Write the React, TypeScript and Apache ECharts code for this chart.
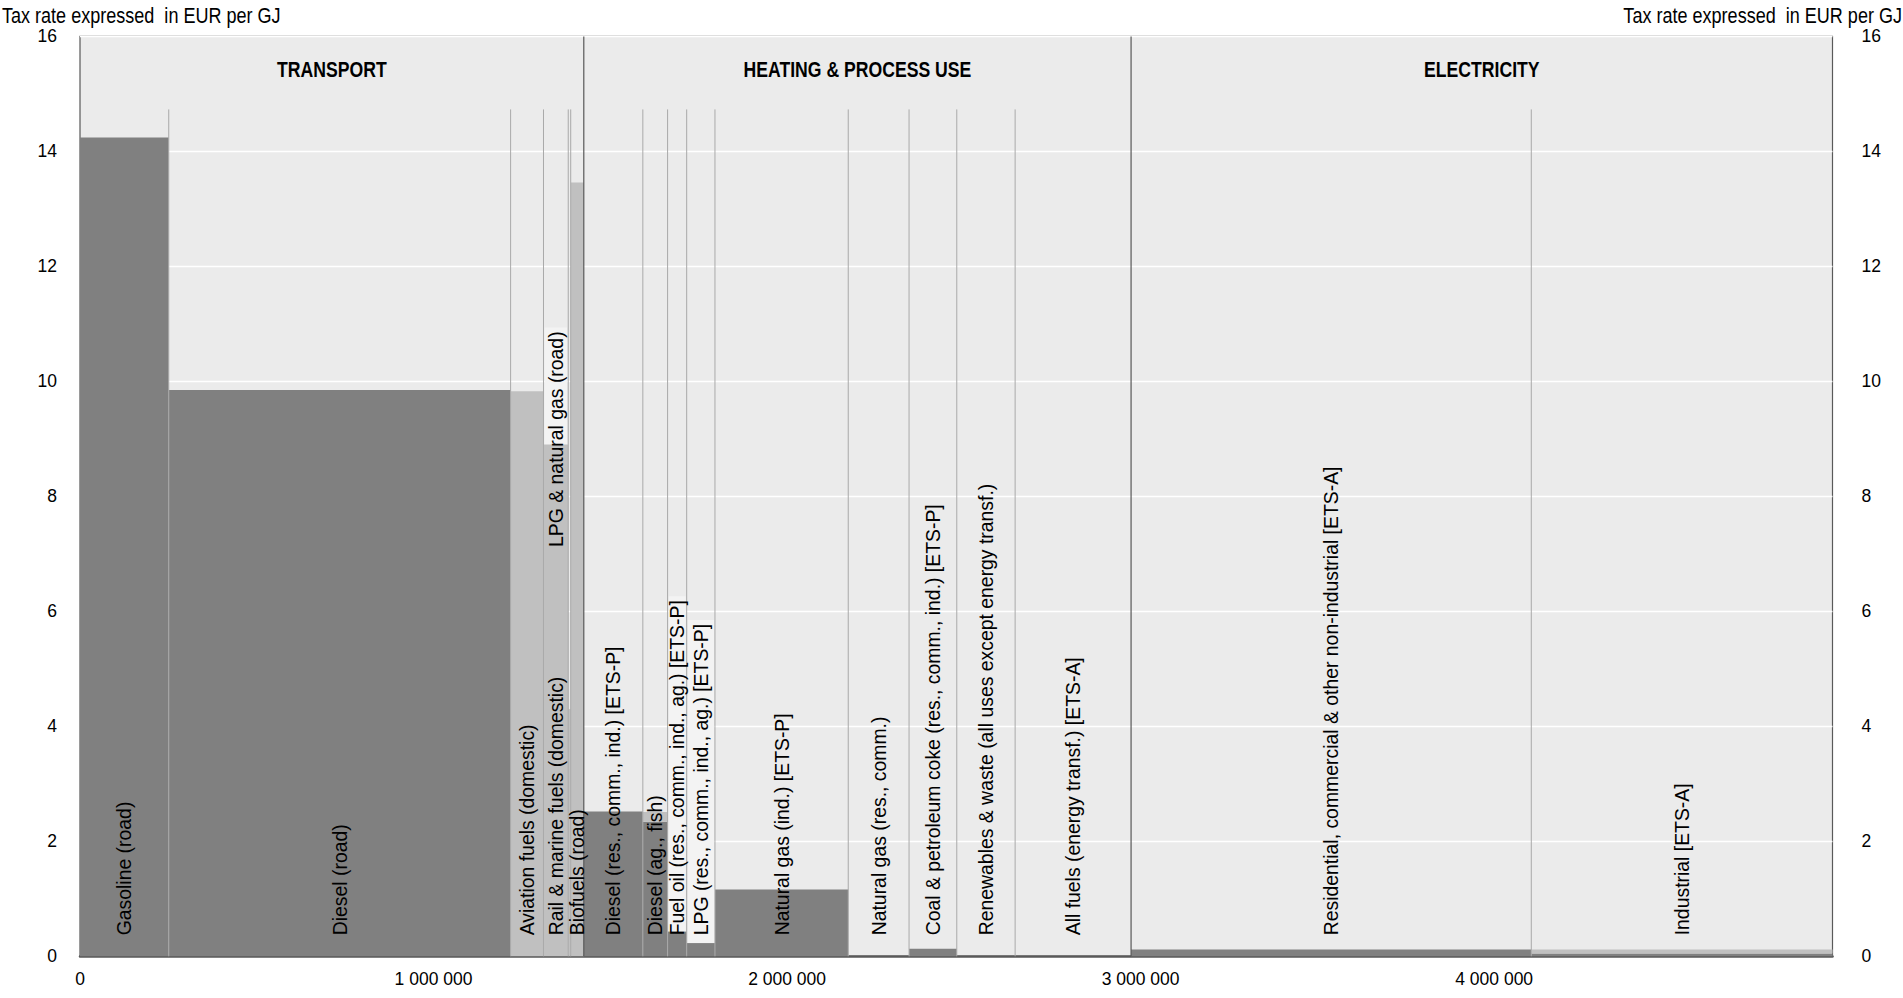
import React, { useEffect, useRef } from "react";
import * as echarts from "echarts";

// ---------- DATA ----------
const categories: string[] = [
  "Gasoline (road)",
  "Diesel (road)",
  "Aviation fuels (domestic)",
  "Rail & marine fuels (domestic)",
  "LPG & natural gas (road)",
  "Biofuels (road)",
  "Diesel (res., comm., ind.) [ETS-P]",
  "Diesel (ag., fish)",
  "Fuel oil (res., comm., ind., ag.) [ETS-P]",
  "LPG (res., comm., ind., ag.) [ETS-P]",
  "Natural gas (ind.) [ETS-P]",
  "Natural gas (res., comm.)",
  "Coal & petroleum coke (res., comm., ind.) [ETS-P]",
  "Renewables & waste (all uses except energy transf.)",
  "All fuels (energy transf.) [ETS-A]",
  "Residential, commercial & other non-industrial [ETS-A]",
  "Industrial [ETS-A]",
];
const sectorNames: string[] = ["TRANSPORT", "HEATING & PROCESS USE", "ELECTRICITY"];
const categorySector: number[] = [0, 0, 0, 0, 0, 0, 1, 1, 1, 1, 1, 1, 1, 1, 1, 2, 2];
// energy use in TJ (bar widths)
const energyUseTJ: number[] = [
  251000, 967000, 93000, 70000, 7000, 37000, 167000, 70000, 54000, 80000,
  377000, 172000, 135000, 165000, 328000, 1132000, 852000,
];
// tax rate, EUR per GJ (dark component)
const taxRateMain: number[] = [
  14.24, 9.85, 0, 0, 0, 0, 2.52, 2.34, 0.43, 0.23, 1.16, 0, 0.13, 0, 0, 0.12, 0.05,
];
// tax rate, EUR per GJ (light component, stacked on top)
const taxRateOther: number[] = [
  0, 0, 9.83, 8.9, 4.3, 13.46, 0, 0.17, 0, 0, 0, 0, 0, 0, 0, 0, 0.07,
];
const xTickValues: number[] = [0, 1000000, 2000000, 3000000, 4000000];
const yAxisTitle = "Tax rate expressed  in EUR per GJ";

// ---------- LABEL PLACEMENT / STYLE CONFIG ----------
const boxedLabels: string[] = [
  "LPG & natural gas (road)",
  "Fuel oil (res., comm., ind., ag.) [ETS-P]",
  "LPG (res., comm., ind., ag.) [ETS-P]",
];
const labelHost: Record<string, string> = {
  "LPG & natural gas (road)": "Rail & marine fuels (domestic)",
};
const labelStartValue: Record<string, number> = {
  "LPG & natural gas (road)": 7.12,
};
const SEPARATOR_TOP = 14.73;
const SECTOR_LABEL_Y = 15.43;
const LABEL_OFFSET_PX = 21;

const DARK = "#808080";
const LIGHT = "#c0c0c0";
const BOX = "#f3f3f3";
const PLOT_BG = "#ebebeb";
const FRAME = "#595959";
const SEP = "#a9a9a9";

const REGULAR = '"Liberation Sans", Arial, sans-serif';
const LABEL_FONT_SIZE = 19.4;
const NARROW_SCALE = 0.82;
const TICK_FONT_SIZE = 17.5;

// ---------- DERIVED ----------
const starts: number[] = [];
const ends: number[] = [];
{
  let acc = 0;
  for (const w of energyUseTJ) {
    starts.push(acc);
    acc += w;
    ends.push(acc);
  }
}
const TOTAL = ends[ends.length - 1];

function measureText(text: string): number {
  const ctx = document.createElement("canvas").getContext("2d");
  if (!ctx) return text.length * LABEL_FONT_SIZE * 0.5;
  ctx.font = `${LABEL_FONT_SIZE}px ${REGULAR}`;
  return ctx.measureText(text).width;
}

function fmt(v: number): string {
  if (v === 0) return "0";
  return String(Math.round(v)).replace(/\B(?=(\d{3})+(?!\d))/g, " ");
}

export default function App() {
  const ref = useRef<HTMLDivElement>(null);

  useEffect(() => {
    if (!ref.current) return;
    const chart = echarts.init(ref.current, undefined, { renderer: "svg" });

    const barData = categories.map((_, i) => [starts[i], ends[i], taxRateMain[i], taxRateOther[i]]);

    const sepData: number[][] = [];
    for (let i = 1; i < categories.length; i++) {
      sepData.push([starts[i], categorySector[i] !== categorySector[i - 1] ? 1 : 0]);
    }

    const labelInfo = categories.map((c) => {
      const host = labelHost[c] ?? c;
      const hi = categories.indexOf(host);
      return { text: c, hi, boxed: boxedLabels.includes(c), start: labelStartValue[c] };
    });
    const labelData = labelInfo.map((l, i) => [(starts[l.hi] + ends[l.hi]) / 2, i]);
    const boxData = labelInfo
      .map((l, i) => ({ l, i }))
      .filter((o) => o.l.boxed)
      .map((o) => [(starts[o.l.hi] + ends[o.l.hi]) / 2, o.i]);

    const sectorData = sectorNames.map((_, s) => {
      const idx = categories.map((_, i) => i).filter((i) => categorySector[i] === s);
      const a = starts[idx[0]];
      const b = ends[idx[idx.length - 1]];
      return [(a + b) / 2, s];
    });

    const labelY = (api: any, i: number) => {
      const l = labelInfo[i];
      if (l.start != null) return api.coord([0, l.start])[1];
      return api.coord([0, 0])[1] - LABEL_OFFSET_PX;
    };

    const option: any = {
      animation: false,
      grid: {
        left: 80,
        right: 70.5,
        top: 36.4,
        bottom: 41.7,
        show: true,
        backgroundColor: PLOT_BG,
        borderColor: FRAME,
        borderWidth: 1.2,
        containLabel: false,
        outerBoundsMode: "none",
      },
      xAxis: {
        type: "value",
        min: 0,
        max: TOTAL,
        interval: 1000000,
        axisLine: { show: true, lineStyle: { color: FRAME, width: 2.5 } },
        axisTick: { show: false },
        splitLine: { show: false },
        axisLabel: {
          showMaxLabel: false,
          color: "#000",
          fontFamily: REGULAR,
          fontSize: TICK_FONT_SIZE,
          margin: 14,
          formatter: (v: number) => (xTickValues.includes(v) ? fmt(v) : ""),
        },
      },
      yAxis: [
        {
          type: "value",
          min: 0,
          max: 16,
          interval: 2,
          axisLine: { show: false },
          axisTick: { show: false },
          splitLine: { show: true, lineStyle: { color: "#ffffff", width: 1.3 } },
          axisLabel: { color: "#000", fontFamily: REGULAR, fontSize: TICK_FONT_SIZE, margin: 23 },
        },
        {
          type: "value",
          position: "right",
          min: 0,
          max: 16,
          interval: 2,
          axisLine: { show: false },
          axisTick: { show: false },
          splitLine: { show: false },
          axisLabel: { color: "#000", fontFamily: REGULAR, fontSize: TICK_FONT_SIZE, margin: 29 },
        },
      ],
      graphic: [
        {
          type: "text",
          x: 2,
          y: 15,
          scaleX: NARROW_SCALE,
          style: {
            text: yAxisTitle,
            fill: "#000",
            fontFamily: REGULAR,
            fontSize: 22,
            align: "left",
            verticalAlign: "middle",
          },
        },
        {
          type: "text",
          x: 1902,
          y: 15,
          scaleX: NARROW_SCALE,
          style: {
            text: yAxisTitle,
            fill: "#000",
            fontFamily: REGULAR,
            fontSize: 22,
            align: "right",
            verticalAlign: "middle",
          },
        },
      ],
      series: [
        {
          type: "custom",
          name: "label boxes",
          z: 1,
          silent: true,
          data: boxData,
          encode: { x: 0, y: -1 },
          renderItem: (params: any, api: any) => {
            const i = api.value(1);
            const l = labelInfo[i];
            const a = api.coord([starts[l.hi], 0]);
            const b = api.coord([ends[l.hi], 0]);
            const y0 = labelY(api, i);
            const w = measureText(l.text);
            return {
              type: "rect",
              shape: { x: a[0] + 1, y: y0 - w - 4, width: b[0] - a[0] - 2, height: w + 12 },
              style: { fill: BOX },
            };
          },
        },
        {
          type: "custom",
          name: "tax rate",
          z: 2,
          silent: true,
          data: barData,
          encode: { x: [0, 1], y: [2] },
          renderItem: (params: any, api: any) => {
            const x0 = api.value(0);
            const x1 = api.value(1);
            const m = api.value(2);
            const o = api.value(3);
            const bl = api.coord([x0, 0]);
            const tm = api.coord([x1, m]);
            const to = api.coord([x1, m + o]);
            const children: any[] = [];
            if (m > 0)
              children.push({
                type: "rect",
                shape: { x: bl[0], y: tm[1], width: tm[0] - bl[0], height: bl[1] - tm[1] },
                style: { fill: DARK },
              });
            if (o > 0)
              children.push({
                type: "rect",
                shape: { x: bl[0], y: to[1], width: to[0] - bl[0], height: tm[1] - to[1] },
                style: { fill: LIGHT },
              });
            return { type: "group", children };
          },
        },
        {
          type: "custom",
          name: "separators",
          z: 3,
          silent: true,
          data: sepData,
          encode: { x: 0, y: -1 },
          renderItem: (params: any, api: any) => {
            const x = api.value(0);
            const isSector = api.value(1) === 1;
            const p0 = api.coord([x, 0]);
            const p1 = api.coord([x, isSector ? 16 : SEPARATOR_TOP]);
            return {
              type: "line",
              shape: { x1: p0[0], y1: p0[1], x2: p1[0], y2: p1[1] },
              style: { stroke: isSector ? FRAME : SEP, lineWidth: isSector ? 1.2 : 1 },
            };
          },
        },
        {
          type: "custom",
          name: "category labels",
          z: 4,
          silent: true,
          data: labelData,
          encode: { x: 0, y: -1 },
          renderItem: (params: any, api: any) => {
            const cx = api.value(0);
            const i = api.value(1);
            const p = api.coord([cx, 0]);
            return {
              type: "text",
              x: p[0],
              y: labelY(api, i),
              rotation: Math.PI / 2,
              style: {
                text: labelInfo[i].text,
                fill: "#000",
                fontFamily: REGULAR,
                fontSize: LABEL_FONT_SIZE,
                align: "left",
                verticalAlign: "middle",
              },
            };
          },
        },
        {
          type: "custom",
          name: "sector labels",
          z: 4,
          silent: true,
          data: sectorData,
          encode: { x: 0, y: -1 },
          renderItem: (params: any, api: any) => {
            const cx = api.value(0);
            const s = api.value(1);
            const p = api.coord([cx, SECTOR_LABEL_Y]);
            return {
              type: "text",
              x: p[0],
              y: p[1],
              scaleX: NARROW_SCALE,
              style: {
                text: sectorNames[s],
                fill: "#000",
                fontFamily: REGULAR,
                fontWeight: "bold",
                fontSize: 21.5,
                align: "center",
                verticalAlign: "middle",
              },
            };
          },
        },
      ],
    };

    chart.setOption(option);
    return () => chart.dispose();
  }, []);

  return (
    <div
      ref={ref}
      style={{ position: "absolute", left: 0, top: 0, width: "1903px", height: "998px" }}
    />
  );
}
